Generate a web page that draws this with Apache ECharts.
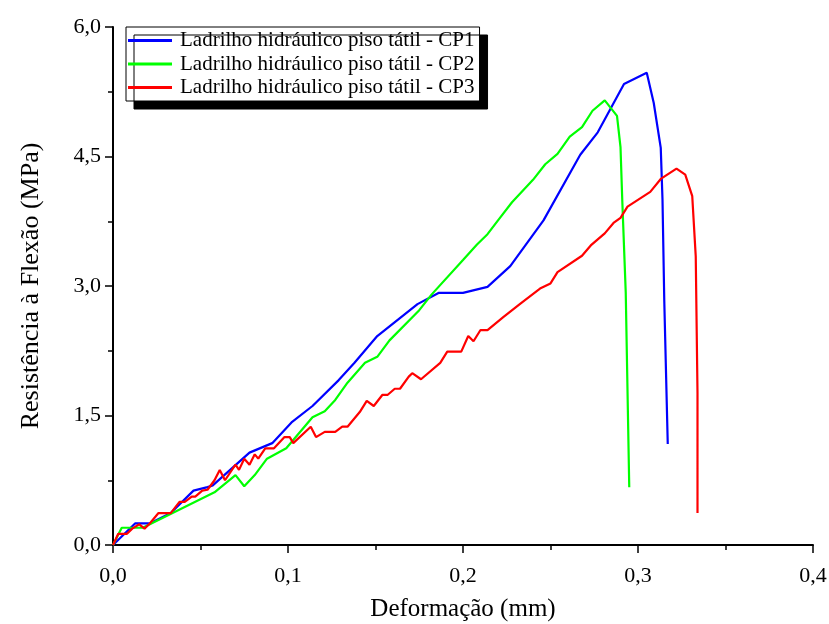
<!DOCTYPE html>
<html><head><meta charset="utf-8">
<script src="https://cdn.jsdelivr.net/npm/echarts@6/dist/echarts.min.js"></script>
<style>html,body{margin:0;padding:0;background:#fff;overflow:hidden}#c{width:829px;height:624px}</style>
</head><body><div id="c"></div>
<script>
const seriesNames = ['Ladrilho hidráulico piso tátil - CP1','Ladrilho hidráulico piso tátil - CP2','Ladrilho hidráulico piso tátil - CP3'];
const cp1X = [0,0.0126,0.021,0.033,0.046,0.054,0.057,0.078,0.091,0.102,0.114,0.129,0.138,0.151,0.174,0.186,0.200,0.214,0.227,0.246,0.267,0.277,0.292,0.305,0.309,0.313,0.314,0.315,0.317];
const cp1Y = [0,0.25,0.25,0.37,0.63,0.67,0.69,1.07,1.18,1.42,1.61,1.91,2.11,2.42,2.79,2.92,2.92,2.99,3.23,3.76,4.52,4.78,5.34,5.47,5.12,4.60,4.0,2.84,1.17];
const cp2X = [0,0.005,0.017,0.058,0.070,0.075,0.081,0.088,0.099,0.114,0.121,0.127,0.134,0.144,0.151,0.158,0.175,0.182,0.200,0.208,0.214,0.220,0.228,0.240,0.247,0.254,0.261,0.268,0.274,0.281,0.288,0.290,0.291,0.293,0.295];
const cp2Y = [0,0.2,0.2,0.61,0.81,0.68,0.81,1.0,1.12,1.48,1.55,1.68,1.88,2.11,2.18,2.37,2.72,2.90,3.30,3.48,3.60,3.76,3.97,4.23,4.41,4.53,4.73,4.84,5.03,5.15,4.97,4.61,4.0,2.92,0.67];
const cp3X = [0,0.003,0.008,0.011,0.015,0.018,0.021,0.026,0.033,0.038,0.041,0.045,0.047,0.051,0.054,0.058,0.061,0.064,0.070,0.072,0.075,0.078,0.081,0.083,0.087,0.092,0.098,0.101,0.103,0.113,0.116,0.121,0.127,0.131,0.134,0.141,0.145,0.149,0.154,0.157,0.161,0.164,0.169,0.171,0.176,0.187,0.191,0.199,0.203,0.206,0.210,0.214,0.223,0.233,0.244,0.250,0.254,0.268,0.273,0.281,0.286,0.290,0.294,0.307,0.313,0.322,0.327,0.331,0.333,0.334,0.334];
const cp3Y = [0,0.13,0.13,0.19,0.24,0.19,0.25,0.37,0.37,0.50,0.50,0.56,0.56,0.63,0.64,0.75,0.87,0.75,0.93,0.87,1.0,0.93,1.05,1.0,1.12,1.12,1.25,1.25,1.18,1.37,1.25,1.31,1.31,1.37,1.37,1.54,1.67,1.61,1.74,1.74,1.81,1.81,1.95,1.99,1.92,2.11,2.24,2.24,2.42,2.36,2.49,2.49,2.64,2.80,2.97,3.03,3.16,3.35,3.47,3.61,3.73,3.79,3.92,4.09,4.24,4.36,4.29,4.04,3.34,1.76,0.37];
const colors = ['#0000ff','#00ff00','#ff0000'];
const xs = [cp1X, cp2X, cp3X], ys = [cp1Y, cp2Y, cp3Y];
const font = 'Liberation Serif';
const fmt = v => v.toFixed(1).replace('.', ',');
const chart = echarts.init(document.getElementById('c'), null, {renderer:'canvas'});
chart.setOption({
  animation: false,
  color: colors,
  grid: {left: 113, right: 16, top: 27, bottom: 79, containLabel: false, outerBoundsMode: 'none'},
  legend: {
    orient: 'vertical', left: 126, top: 27,
    data: seriesNames,
    icon: 'rect', itemWidth: 44, itemHeight: 3, itemGap: 2.5,
    padding: [3, 5, 3, 2],
    backgroundColor: '#fff', borderColor: '#000', borderWidth: 1,
    shadowColor: '#000', shadowBlur: 0, shadowOffsetX: 8, shadowOffsetY: 8,
    textStyle: {fontFamily: font, fontSize: 21, color: '#000', padding: [0,0,0,3]}
  },
  xAxis: {
    type: 'value', min: 0, max: 0.4, interval: 0.1,
    name: 'Deformação (mm)', nameLocation: 'middle', nameGap: 52,
    nameTextStyle: {fontFamily: font, fontSize: 25, color: '#000'},
    axisLine: {show: true, onZero: false, lineStyle: {color: '#000', width: 2}},
    axisTick: {show: true, inside: false, length: 8, lineStyle: {color: '#000', width: 1.5}},
    minorTick: {show: true, splitNumber: 2, length: 5, lineStyle: {color: '#000', width: 1.5}},
    splitLine: {show: false},
    axisLabel: {fontFamily: font, fontSize: 22, color: '#000', margin: 20, formatter: fmt}
  },
  yAxis: {
    type: 'value', min: 0, max: 6, interval: 1.5,
    name: 'Resistência à Flexão (MPa)', nameLocation: 'middle', nameGap: 69,
    nameTextStyle: {fontFamily: font, fontSize: 26, color: '#000'},
    axisLine: {show: true, onZero: false, lineStyle: {color: '#000', width: 2}},
    axisTick: {show: true, inside: false, length: 8, lineStyle: {color: '#000', width: 1.5}},
    minorTick: {show: true, splitNumber: 2, length: 5, lineStyle: {color: '#000', width: 1.5}},
    splitLine: {show: false},
    axisLabel: {fontFamily: font, fontSize: 22, color: '#000', margin: 12, formatter: fmt}
  },
  series: seriesNames.map((n, i) => ({
    name: n, type: 'line', showSymbol: false, symbol: 'none',
    lineStyle: {width: 2.2, color: colors[i]},
    data: xs[i].map((x, j) => [x, ys[i][j]])
  }))
});
</script></body></html>
